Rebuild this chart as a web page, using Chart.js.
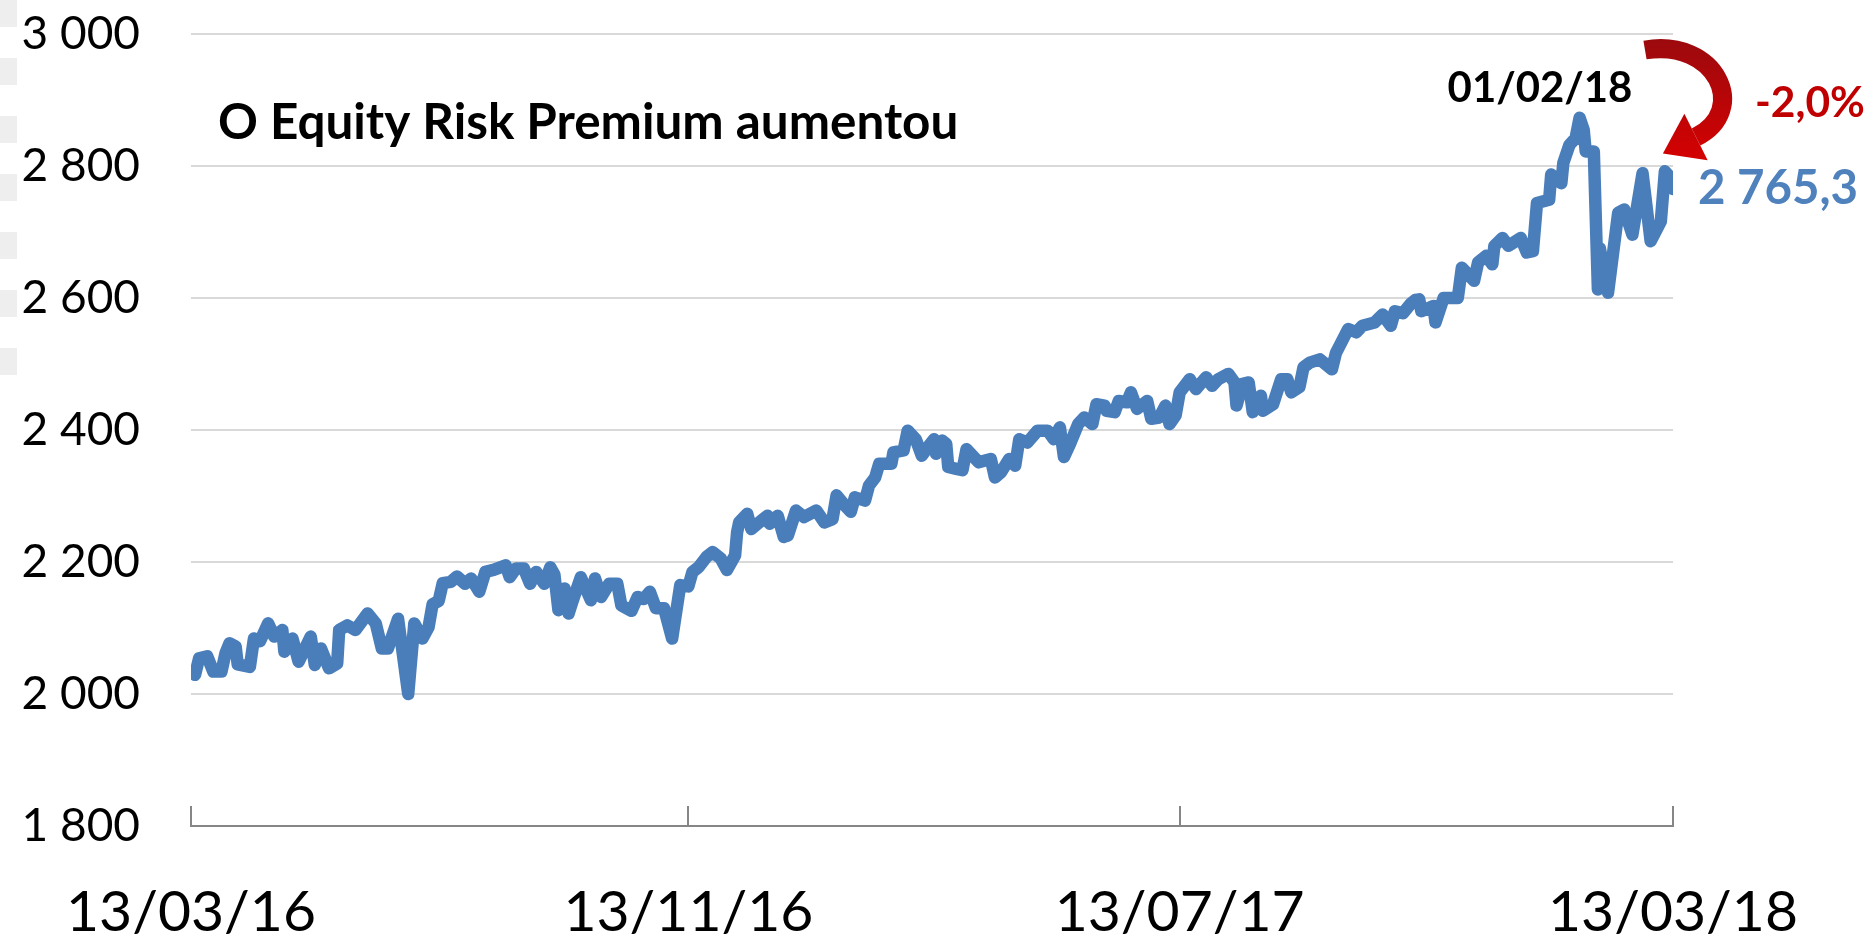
<!DOCTYPE html>
<html>
<head>
<meta charset="utf-8">
<script src="https://cdn.jsdelivr.net/npm/chart.js@4.4.1/dist/chart.umd.min.js"></script>
<style>
  html, body { margin: 0; padding: 0; background: #fff; }
  #wrap { position: relative; width: 1872px; height: 940px; }
  #edge {
    position: absolute; left: 0; top: 0; width: 17px; height: 378px;
    background: repeating-linear-gradient(to bottom, #eeeeee 0 27px, transparent 27px 58px);
  }
  canvas { position: absolute; left: 0; top: 0; }
</style>
</head>
<body>
<div id="wrap">
  <div id="edge"></div>
  <canvas id="grafico" width="1872" height="940"></canvas>
</div>
<script>
// dias desde 13/03/16 e fechamento do índice
const tickDays = [0, 245, 487, 730];
const tickLabels = ["13/03/16", "13/11/16", "13/07/17", "13/03/18"];

const days = [
  2, 4, 8, 11, 15, 17, 19, 22, 23, 29,
  31, 34, 38, 41, 45, 46, 50, 53, 59, 61,
  64, 68, 72, 73, 77, 81, 87, 91, 94, 97,
  102, 107, 110, 114, 117, 119, 122, 124, 128, 131,
  135, 138, 142, 145, 149, 155, 157, 160, 164, 167,
  170, 174, 177, 179, 181, 184, 186, 188, 192, 197,
  199, 202, 206, 210, 212, 217, 220, 223, 226, 229,
  233, 237, 241, 245, 247, 250, 254, 257, 261, 264,
  268, 269, 270, 274, 276, 281, 284, 285, 289, 292,
  294, 298, 302, 308, 312, 316, 318, 322, 325, 327,
  332, 334, 337, 339, 345, 346, 351, 353, 357, 360,
  363, 366, 367, 370, 372, 373, 377, 380, 382, 388,
  394, 396, 399, 403, 406, 408, 412, 417, 422, 425,
  428, 430, 433, 437, 440, 444, 446, 450, 451, 455,
  457, 461, 463, 466, 471, 473, 477, 480, 482, 485,
  487, 492, 495, 500, 503, 506, 511, 514, 515, 518,
  521, 523, 527, 528, 533, 537, 540, 542, 546, 548,
  551, 556, 562, 564, 570, 574, 577, 583, 587, 591,
  593, 597, 601, 603, 605, 606, 612, 613, 617, 624,
  626, 632, 634, 638, 641, 642, 646, 649, 655, 658,
  661, 663, 669, 670, 675, 676, 679, 682, 684, 686,
  687, 691, 693, 694, 696, 698, 703, 706, 710, 715,
  719, 724, 726, 728, 730
];

const values = [
  2029, 2054, 2057, 2034, 2034, 2062, 2077, 2072, 2045, 2041,
  2084, 2080, 2107, 2087, 2097, 2064, 2084, 2049, 2087, 2044,
  2069, 2039, 2046, 2097, 2104, 2097, 2122, 2107, 2069, 2069,
  2114, 2000, 2107, 2084, 2101, 2136, 2141, 2168, 2170, 2178,
  2167, 2175, 2155, 2185, 2188, 2195, 2177, 2190, 2190, 2167,
  2185, 2167, 2192, 2181, 2127, 2160, 2122, 2141, 2177, 2142,
  2175, 2147, 2167, 2167, 2134, 2126, 2147, 2144, 2155, 2130,
  2130, 2084, 2165, 2163, 2185, 2192, 2208, 2215, 2205, 2188,
  2210, 2245, 2260, 2273, 2250, 2263, 2270, 2258, 2270, 2238,
  2240, 2278, 2268, 2278, 2260, 2265, 2301, 2286, 2276, 2298,
  2293, 2316, 2328, 2349, 2349, 2366, 2369, 2399, 2386, 2361,
  2374, 2386, 2364, 2384, 2379, 2344, 2341, 2339, 2371, 2351,
  2356, 2328, 2336, 2356, 2346, 2386, 2381, 2399, 2399, 2386,
  2404, 2359, 2379, 2409, 2419, 2409, 2439, 2437, 2429, 2427,
  2444, 2442, 2457, 2432, 2444, 2417, 2419, 2437, 2409, 2422,
  2457, 2477, 2462, 2480, 2467, 2477, 2485, 2472, 2437, 2470,
  2472, 2427, 2452, 2429, 2439, 2477, 2477, 2457, 2465, 2495,
  2502, 2507, 2492, 2517, 2553, 2548, 2558, 2563, 2575, 2558,
  2580, 2577, 2592, 2597, 2598, 2580, 2588, 2563, 2600, 2600,
  2646, 2626, 2654, 2664, 2651, 2679, 2691, 2679, 2691, 2669,
  2671, 2744, 2749, 2787, 2774, 2805, 2832, 2842, 2873, 2855,
  2822, 2822, 2613, 2675, 2640, 2608, 2729, 2734, 2696, 2789,
  2686, 2716, 2792, 2785, 2765
];

const titulo = "O Equity Risk Premium aumentou";
const picoLabel = "01/02/18";
const quedaLabel = "-2,0%";
const ultimoLabel = "2 765,3";

const AZUL = "#4A7EBB";
const AZUL_TEXTO = "#4F81BD";
const VERMELHO = "#C00000";

function milhar(v) {
  return String(v).replace(/\B(?=(\d{3})+(?!\d))/g, " ");
}

// escreve texto ajustando o tamanho da fonte a uma largura alvo
function textoAjustado(ctx, texto, larguraAlvo, x, y, align, cor) {
  ctx.font = "bold 40px Lato";
  const size = 40 * larguraAlvo / ctx.measureText(texto).width;
  ctx.font = `bold ${size.toFixed(1)}px Lato`;
  ctx.fillStyle = cor;
  ctx.textAlign = align;
  ctx.textBaseline = "middle";
  ctx.fillText(texto, x, y);
}

function desenharSeta(ctx) {
  const grad = ctx.createLinearGradient(0, 36, 0, 170);
  grad.addColorStop(0, "#9A0A0E");
  grad.addColorStop(1, "#D90000");

  const ex = 1696, ey = 137;
  ctx.strokeStyle = grad;
  ctx.lineWidth = 19;
  ctx.lineCap = "butt";
  ctx.beginPath();
  ctx.moveTo(1645, 50);
  ctx.bezierCurveTo(1716, 38, 1750, 110, ex, ey);
  ctx.stroke();

  // ponta da seta
  let dx = ex - 1750, dy = ey - 110;
  const n = Math.hypot(dx, dy);
  dx /= n; dy /= n;
  const px = -dy, py = dx;
  ctx.fillStyle = grad;
  ctx.beginPath();
  ctx.moveTo(ex + dx * 37, ey + dy * 37);
  ctx.lineTo(ex + px * 26, ey + py * 26);
  ctx.lineTo(ex - px * 26, ey - py * 26);
  ctx.closePath();
  ctx.fill();
}

const anotacoes = {
  id: "anotacoes",
  afterDraw(chart) {
    const { ctx, scales: { x, y } } = chart;
    ctx.save();

    // marcas do eixo x, para dentro
    ctx.strokeStyle = "#868686";
    ctx.lineWidth = 2;
    x.ticks.forEach((t) => {
      const px = Math.round(x.getPixelForValue(t.value));
      ctx.beginPath();
      ctx.moveTo(px, y.bottom);
      ctx.lineTo(px, y.bottom - 20);
      ctx.stroke();
    });

    textoAjustado(ctx, titulo, 741, 218, 123, "left", "#000");
    textoAjustado(ctx, picoLabel, 185, 1540, 88, "center", "#000");
    textoAjustado(ctx, quedaLabel, 110, 1755, 103, "left", VERMELHO);

    const ultimoX = x.getPixelForValue(days[days.length - 1]);
    const ultimoY = y.getPixelForValue(values[values.length - 1]);
    textoAjustado(ctx, ultimoLabel, 160, ultimoX + 25, ultimoY, "left", AZUL_TEXTO);

    desenharSeta(ctx);
    ctx.restore();
  }
};

const ctx = document.getElementById("grafico").getContext("2d");

new Chart(ctx, {
  type: "line",
  data: {
    datasets: [
      {
        data: days.map((d, i) => ({ x: d, y: values[i] })),
        borderColor: AZUL,
        borderWidth: 12.5,
        borderJoinStyle: "round",
        borderCapStyle: "round",
        pointRadius: 0,
        tension: 0,
        fill: false,
      }
    ]
  },
  options: {
    responsive: false,
    animation: false,
    devicePixelRatio: 1,
    layout: { padding: { left: 0, right: 199, top: 34, bottom: 0 } },
    plugins: {
      legend: { display: false },
      tooltip: { enabled: false },
    },
    scales: {
      x: {
        type: "linear",
        min: 0,
        max: 730,
        afterBuildTicks: (s) => { s.ticks = tickDays.map((v) => ({ value: v })); },
        afterFit: (s) => {
          s.height = 114;
          s.paddingLeft = 0;
          s.paddingRight = 0;
        },
        ticks: {
          callback: (v, i) => tickLabels[i],
          autoSkip: false,
          maxRotation: 0,
          color: "#000",
          padding: 52,
          font: { family: "Lato", size: 57 },
        },
        grid: { display: false, drawTicks: false },
        border: { color: "#868686", width: 2 },
      },
      y: {
        min: 1800,
        max: 3000,
        afterFit: (s) => {
          s.width = 191;
          s.paddingTop = 0;
          s.paddingBottom = 0;
        },
        ticks: {
          stepSize: 200,
          callback: (v) => milhar(v),
          color: "#000",
          padding: 51,
          font: { family: "Lato", size: 46 },
        },
        grid: { color: "#D9D9D9", lineWidth: 2, drawTicks: false },
        border: { display: false },
      }
    }
  },
  plugins: [anotacoes]
});
</script>
</body>
</html>
